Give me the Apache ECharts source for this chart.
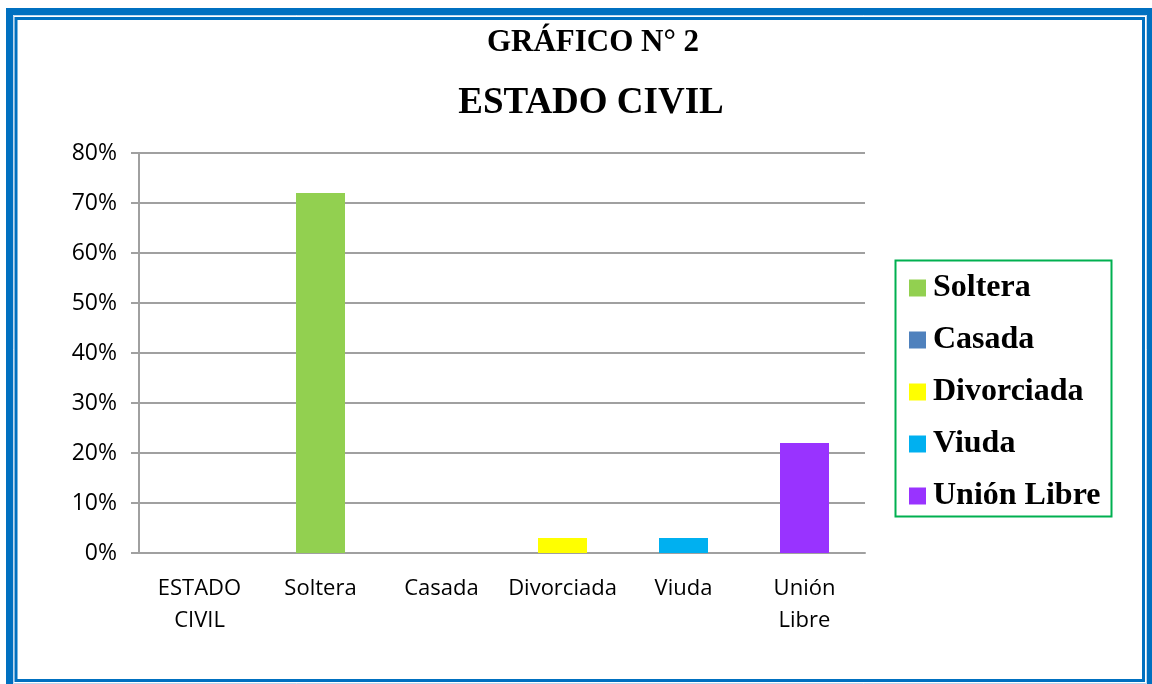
<!DOCTYPE html>
<html><head><meta charset="utf-8">
<script src="https://cdn.jsdelivr.net/npm/echarts@6/dist/echarts.min.js"></script>
<style>html,body{margin:0;padding:0;background:#fff}#c{width:1152px;height:684px}</style>
</head><body><div id="c"></div>
<script>
const categories = ['ESTADO\nCIVIL', 'Soltera', 'Casada', 'Divorciada', 'Viuda', 'Unión\nLibre'];
const seriesNames = ['Soltera', 'Casada', 'Divorciada', 'Viuda', 'Unión Libre'];
const seriesValues = [72, 0, 3, 3, 22];
const seriesColors = ['#92D050', '#4F81BD', '#FFFF00', '#00B0F0', '#9933FF'];
const yTicks = [0, 10, 20, 30, 40, 50, 60, 70, 80];

const series = seriesNames.map((name, i) => {
  const data = categories.map(() => null);
  data[i + 1] = seriesValues[i];
  return {
    name, type: 'bar', stack: 'all', barWidth: 49,
    itemStyle: { color: seriesColors[i] }, data
  };
});

const chart = echarts.init(document.getElementById('c'), null, { renderer: 'canvas' });
chart.setOption({
  animation: false,
  title: [
    { text: 'GRÁFICO N° 2', left: 588, top: 22, textAlign: 'center',
      textStyle: { fontFamily: 'Liberation Serif', fontWeight: 'bold', fontSize: 31, color: '#000' } },
    { text: 'ESTADO CIVIL', left: 586, top: 80, textAlign: 'center',
      textStyle: { fontFamily: 'Liberation Serif', fontWeight: 'bold', fontSize: 37, color: '#000' } }
  ],
  graphic: [
    { type: 'rect', shape: { x: 9.5, y: 11.5, width: 1141, height: 680 }, style: { fill: 'none', stroke: '#0070C0', lineWidth: 7 } },
    { type: 'rect', shape: { x: 13.5, y: 15.5, width: 1133, height: 668 }, style: { fill: 'none', stroke: '#BDD7EE', lineWidth: 1 } },
    { type: 'rect', shape: { x: 16, y: 18.5, width: 1127.5, height: 662 }, style: { fill: 'none', stroke: '#0070C0', lineWidth: 3 } },
    { type: 'rect', shape: { x: 895.5, y: 260.5, width: 216, height: 256 }, style: { fill: 'none', stroke: '#00B050', lineWidth: 2 } }
  ],
  legend: {
    data: seriesNames, orient: 'vertical', left: 904, top: 267,
    itemWidth: 17, itemHeight: 17, itemGap: 20, icon: 'rect',
    textStyle: { fontFamily: 'Liberation Serif', fontWeight: 'bold', fontSize: 32, lineHeight: 31, color: '#000', padding: [0, 0, 0, 2] }
  },
  grid: { left: 139, right: 287, top: 153, bottom: 131 },
  xAxis: {
    type: 'category', data: categories,
    axisLine: { lineStyle: { color: '#A0A0A0', width: 2 } },
    axisTick: { show: false },
    axisLabel: { fontFamily: 'Open Sans', fontSize: 22, color: '#000', margin: 20, lineHeight: 32, interval: 0 }
  },
  yAxis: {
    type: 'value', min: 0, max: 80, interval: 10,
    axisLine: { show: true, lineStyle: { color: '#A0A0A0', width: 2 } },
    axisTick: { show: true, length: 8, lineStyle: { color: '#A0A0A0', width: 2 } },
    splitLine: { lineStyle: { color: '#A0A0A0', width: 2 } },
    axisLabel: { fontFamily: 'Open Sans', fontSize: 23, color: '#000', margin: 22,
      formatter: v => yTicks.includes(v) ? v + '%' : '' }
  },
  series
});
</script></body></html>
